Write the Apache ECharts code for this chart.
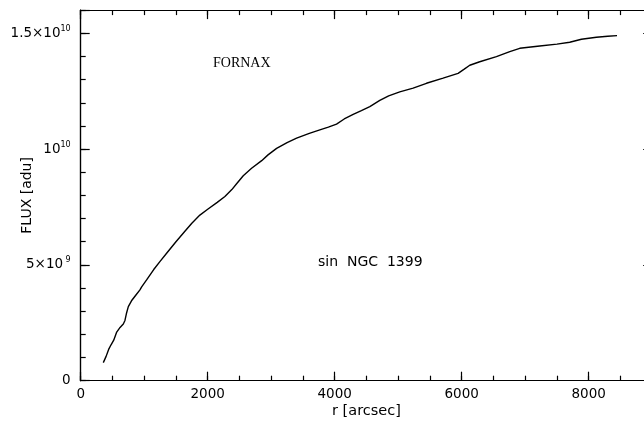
<!DOCTYPE html>
<html>
<head>
<meta charset="utf-8">
<script src="https://cdn.jsdelivr.net/npm/echarts@6/dist/echarts.min.js"></script>
<style>
html,body{margin:0;padding:0;background:#fff;}
#chart{width:644px;height:427px;}
</style>
</head>
<body>
<div id="chart"></div>
<script>
// radius r [arcsec]
var radius = [356, 400, 440, 478, 520, 567, 620, 671, 697, 720, 750, 800, 870, 933, 960, 1038, 1150, 1250, 1353, 1500, 1641, 1750, 1877, 2000, 2150, 2271, 2380, 2455, 2560, 2691, 2850, 2950, 3085, 3250, 3400, 3600, 3766, 3900, 4029, 4150, 4291, 4420, 4553, 4710, 4850, 5025, 5235, 5445, 5707, 5943, 6040, 6127, 6284, 6547, 6757, 6914, 7229, 7500, 7701, 7885, 8121, 8300, 8446];
// cumulative flux [adu], in units of 1e9
var fluxE9 = [0.78, 1.05, 1.35, 1.55, 1.75, 2.1, 2.3, 2.45, 2.6, 2.9, 3.2, 3.45, 3.7, 3.92, 4.05, 4.35, 4.8, 5.15, 5.5, 6.0, 6.45, 6.8, 7.15, 7.4, 7.7, 7.95, 8.25, 8.5, 8.85, 9.17, 9.5, 9.75, 10.03, 10.28, 10.47, 10.68, 10.83, 10.95, 11.08, 11.3, 11.5, 11.66, 11.83, 12.1, 12.3, 12.47, 12.63, 12.84, 13.06, 13.27, 13.45, 13.62, 13.77, 13.99, 14.21, 14.35, 14.45, 14.53, 14.61, 14.74, 14.83, 14.87, 14.90];
// x tick labels
var xTickValues = [0, 2000, 4000, 6000, 8000];
// y tick labels: value, mantissa text, exponent text
var yTickValues = [0, 5e9, 1e10, 1.5e10];
var yTickBase = ['0', '5×10', '10', '1.5×10'];
var yTickExp = ['', ' 9', '10', '10'];
var xName = 'r [arcsec]';
var yName = 'FLUX [adu]';
var noteTop = 'FORNAX';
var noteBottom = 'sin  NGC  1399';

var data = radius.map(function (r, i) { return [r, fluxE9[i] * 1e9]; });

var FONT = 'DejaVu Sans';
var lineStyle = { color: '#000', width: 1.2 };
var XMIN = 0, XMAX = 9000, YMIN = 0, YMAX = 1.6e10;

function xAx(pos, interval, len, showLabel, extra) {
  var a = {
    type: 'value', position: pos, min: XMIN, max: XMAX, interval: interval,
    axisLine: { show: true, onZero: false, lineStyle: lineStyle },
    axisTick: { show: true, inside: true, length: len, lineStyle: lineStyle },
    axisLabel: { show: false },
    splitLine: { show: false }
  };
  if (showLabel) {
    a.axisLabel = {
      show: true, margin: 7, fontFamily: FONT, fontSize: 13.5, color: '#000',
      formatter: function (v) { return xTickValues.indexOf(v) >= 0 ? String(v) : ''; }
    };
  }
  return Object.assign(a, extra || {});
}
function yAx(pos, interval, len, showLabel, extra) {
  var a = {
    type: 'value', position: pos, min: YMIN, max: YMAX, interval: interval,
    axisLine: { show: true, onZero: false, lineStyle: lineStyle },
    axisTick: { show: true, inside: true, length: len, lineStyle: lineStyle },
    axisLabel: { show: false },
    splitLine: { show: false }
  };
  if (showLabel) {
    a.axisLabel = {
      show: true, margin: 10, color: '#000',
      formatter: function (v) {
        var i = yTickValues.indexOf(v);
        if (i < 0) return '';
        if (!yTickExp[i]) return '{b|' + yTickBase[i] + '}';
        return '{b|' + yTickBase[i] + '}{s|' + yTickExp[i] + '}';
      },
      rich: {
        b: { fontFamily: FONT, fontSize: 13.5, color: '#000' },
        s: { fontFamily: FONT, fontSize: 8, color: '#000', padding: [0, 0, 9, 0] }
      }
    };
  }
  return Object.assign(a, extra || {});
}

var chart = echarts.init(document.getElementById('chart'), null, { renderer: 'canvas' });
chart.setOption({
  backgroundColor: '#fff',
  animation: false,
  grid: { left: 80.7, top: 10.1, width: 571.5, height: 370.6, containLabel: false, outerBoundsMode: 'none' },
  xAxis: [
    xAx('bottom', 2000, 9, true, {
      name: xName, nameLocation: 'middle', nameGap: 23, nameMoveOverlap: false,
      nameTextStyle: { fontFamily: FONT, fontSize: 14.5, color: '#000' }
    }),
    xAx('bottom', 500, 5, false),
    xAx('top', 2000, 9, false),
    xAx('top', 500, 5, false)
  ],
  yAxis: [
    yAx('left', 5e9, 9, true, {
      name: yName, nameLocation: 'middle', nameGap: 46, nameMoveOverlap: false,
      nameTextStyle: { fontFamily: FONT, fontSize: 14, color: '#000' }
    }),
    yAx('left', 1e9, 5, false),
    yAx('right', 5e9, 9, false),
    yAx('right', 1e9, 5, false)
  ],
  series: [{
    type: 'line', xAxisIndex: 0, yAxisIndex: 0, data: data,
    showSymbol: false, smooth: false,
    lineStyle: { color: '#000', width: 1.4 }
  }],
  graphic: [
    { type: 'text', left: 213, top: 56, style: { text: noteTop, font: '14px "Liberation Serif"', fill: '#000' } },
    { type: 'text', left: 318, top: 255, style: { text: noteBottom, font: '14px "DejaVu Sans"', fill: '#000' } }
  ]
});
</script>
</body>
</html>
